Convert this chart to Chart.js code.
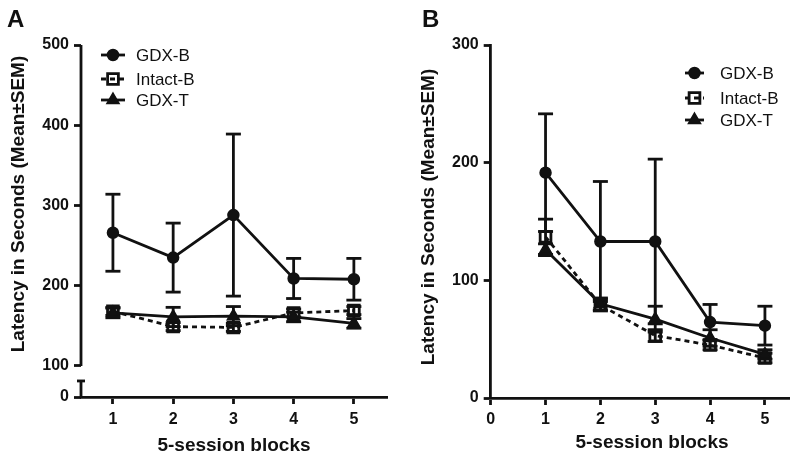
<!DOCTYPE html>
<html>
<head>
<meta charset="utf-8">
<script src="https://cdn.jsdelivr.net/npm/chart.js@4.4.0/dist/chart.umd.min.js"></script>
<style>
body { margin: 0; background: #fff; }
#wrap { position: relative; width: 800px; height: 457px; }
.panel { position: absolute; top: 0; width: 400px; height: 457px; }
</style>
</head>
<body>
<div id="wrap">
  <div class="panel" style="left:0"><canvas id="chartA" width="400" height="457"></canvas></div>
  <div class="panel" style="left:400px"><canvas id="chartB" width="400" height="457"></canvas></div>
</div>
<script>
var blocks = [1, 2, 3, 4, 5];
var groups = ["GDX-B", "Intact-B", "GDX-T"];

// panel A - latency per block (mean, sem)
var gdxbA = [266, 235, 288, 209, 208];
var gdxbSemA = [48, 43, 101, 25, 26];
var intactA = [168, 149, 148, 166, 169];
var intactSemA = [5, 5, 5, 5, 5];
var gdxtA = [166, 161, 162, 161, 153];
var gdxtSemA = [6, 12, 12, 6, 6];
var yTicksA = [100, 200, 300, 400, 500];

// panel B
var gdxbB = [191.5, 133, 133, 64.5, 61.5];
var gdxbSemB = [50, 51, 70, 15, 16.5];
var intactB = [137, 79, 53, 45, 34];
var intactSemB = [15, 5, 5, 4, 4];
var gdxtB = [126, 80, 67, 51, 37];
var gdxtSemB = [5, 5, 11, 7, 4];
var xTicksB = [0, 1, 2, 3, 4, 5];
var yTicksB = [0, 100, 200, 300];

var INK = "#111";
var FONT = "'Liberation Sans', Arial, Helvetica, sans-serif";
var LW = 2.8;

// bottom of the broken axis in A (shown as "0")
var yBottomA = 61.25;
var yBreakA = 81.25;

function pts(vals) {
  return blocks.map(function(b, i) { return { x: b, y: vals[i] }; });
}

function makeSets(gdxb, gdxbSem, intact, intactSem, gdxt, gdxtSem) {
  return [
    { label: groups[0], data: pts(gdxb), sem: gdxbSem, borderColor: INK, borderWidth: LW,
      pointStyle: "circle", pointRadius: 5.5, pointBorderWidth: 1.5,
      pointBackgroundColor: INK, pointBorderColor: INK, order: 2 },
    { label: groups[1], data: pts(intact), sem: intactSem, borderColor: INK, borderWidth: LW,
      borderDash: [5, 4], pointStyle: "rect", pointRadius: 7.6, pointBorderWidth: 2.8,
      pointBackgroundColor: "rgba(0,0,0,0)", pointBorderColor: INK, order: 1 },
    { label: groups[2], data: pts(gdxt), sem: gdxtSem, borderColor: INK, borderWidth: LW,
      pointStyle: "triangle", pointRadius: 7, pointBorderWidth: 1.5,
      pointBackgroundColor: INK, pointBorderColor: INK, order: 0 }
  ];
}

function line(ctx, x1, y1, x2, y2) {
  ctx.beginPath();
  ctx.moveTo(x1, y1);
  ctx.lineTo(x2, y2);
  ctx.stroke();
}

// error bars, titles, legend, panel letter, broken axis
var extras = {
  id: "extras",
  beforeDatasetsDraw: function(chart) {
    var ctx = chart.ctx, xs = chart.scales.x, ys = chart.scales.y;
    ctx.save();
    ctx.strokeStyle = INK;
    ctx.lineWidth = LW;
    chart.data.datasets.forEach(function(ds) {
      ds.data.forEach(function(p, j) {
        var x = xs.getPixelForValue(p.x);
        var top = ys.getPixelForValue(p.y + ds.sem[j]);
        var bot = ys.getPixelForValue(p.y - ds.sem[j]);
        line(ctx, x, top, x, bot);
        line(ctx, x - 7.5, top, x + 7.5, top);
        line(ctx, x - 7.5, bot, x + 7.5, bot);
      });
    });
    ctx.restore();
  },
  afterDraw: function(chart, args, o) {
    var ctx = chart.ctx, ys = chart.scales.y, area = chart.chartArea;
    ctx.save();
    ctx.fillStyle = INK;
    ctx.strokeStyle = INK;

    if (o.broken) {
      ctx.lineWidth = LW;
      line(ctx, area.left, ys.getPixelForValue(500), area.left, ys.getPixelForValue(100));
      var yb = ys.getPixelForValue(yBreakA);
      line(ctx, area.left, yb, area.left, area.bottom + 1);
      line(ctx, area.left - 4, yb, area.left + 4, yb);
    }

    ctx.font = "bold 24px " + FONT;
    ctx.textBaseline = "alphabetic";
    ctx.textAlign = "left";
    ctx.fillText(o.letter, o.letterX, 27);

    ctx.font = "bold 19px " + FONT;
    ctx.textAlign = "center";
    ctx.fillText("5-session blocks", o.xTitleX, o.xTitleY);

    ctx.save();
    ctx.translate(o.yTitleX, o.yTitleY);
    ctx.rotate(-Math.PI / 2);
    ctx.textBaseline = "middle";
    ctx.fillText("Latency in Seconds (Mean\u00B1SEM)", 0, 0);
    ctx.restore();

    ctx.font = "17px " + FONT;
    ctx.textAlign = "left";
    ctx.textBaseline = "middle";
    chart.data.datasets.forEach(function(ds, i) {
      var y = o.legY[i];
      ctx.lineWidth = LW;
      ctx.setLineDash(ds.borderDash || []);
      line(ctx, o.legX0, y, o.legX1, y);
      ctx.setLineDash([]);
      ctx.fillStyle = ds.pointBackgroundColor;
      ctx.strokeStyle = INK;
      ctx.lineWidth = ds.pointBorderWidth;
      Chart.helpers.drawPoint(ctx, {
        pointStyle: ds.pointStyle, radius: ds.pointRadius, rotation: 0, borderWidth: ds.pointBorderWidth
      }, (o.legX0 + o.legX1) / 2, y);
      ctx.fillStyle = INK;
      ctx.fillText(ds.label, o.legText, y + 1);
    });
    ctx.restore();
  }
};

function tickFont() { return { family: FONT, size: 16, weight: "bold" }; }

function axisGrid() {
  return { display: true, drawOnChartArea: false, tickLength: 7, tickWidth: LW, tickColor: INK, color: INK };
}

var chartA = new Chart(document.getElementById("chartA"), {
  type: "line",
  data: { datasets: makeSets(gdxbA, gdxbSemA, intactA, intactSemA, gdxtA, gdxtSemA) },
  plugins: [extras],
  options: {
    responsive: false, animation: false, devicePixelRatio: 1, events: [],
    layout: { padding: { top: 45, right: 13, left: 0, bottom: 0 } },
    scales: {
      x: {
        type: "linear", min: 0.47, max: 5.55,
        afterBuildTicks: function(s) { s.ticks = blocks.map(function(v) { return { value: v }; }); },
        afterFit: function(s) { s.height = 60; },
        grid: axisGrid(),
        border: { display: true, color: INK, width: LW },
        ticks: { font: tickFont(), color: INK, padding: 6, maxRotation: 0 }
      },
      y: {
        type: "linear", min: yBottomA, max: 500,
        afterBuildTicks: function(s) {
          s.ticks = [{ value: yBottomA }].concat(yTicksA.map(function(v) { return { value: v }; }));
        },
        afterFit: function(s) { s.width = 81; },
        grid: axisGrid(),
        border: { display: false },
        ticks: {
          font: tickFont(), color: INK, padding: 5,
          callback: function(v) { return v === yBottomA ? "0" : v; }
        }
      }
    },
    plugins: {
      legend: { display: false }, tooltip: { enabled: false },
      extras: {
        broken: true, letter: "A", letterX: 7,
        xTitleX: 234, xTitleY: 451, yTitleX: 18.5, yTitleY: 204,
        legX0: 101, legX1: 125, legText: 136, legY: [55, 79, 100]
      }
    }
  }
});

var chartB = new Chart(document.getElementById("chartB"), {
  type: "line",
  data: { datasets: makeSets(gdxbB, gdxbSemB, intactB, intactSemB, gdxtB, gdxtSemB) },
  plugins: [extras],
  options: {
    responsive: false, animation: false, devicePixelRatio: 1, events: [],
    layout: { padding: { top: 45, right: 10, left: 0, bottom: 0 } },
    scales: {
      x: {
        type: "linear", min: 0, max: 5.45,
        afterBuildTicks: function(s) { s.ticks = xTicksB.map(function(v) { return { value: v }; }); },
        afterFit: function(s) { s.height = 59; },
        grid: axisGrid(),
        border: { display: true, color: INK, width: LW },
        ticks: { font: tickFont(), color: INK, padding: 5, maxRotation: 0 }
      },
      y: {
        type: "linear", min: 0, max: 300,
        afterBuildTicks: function(s) { s.ticks = yTicksB.map(function(v) { return { value: v }; }); },
        afterFit: function(s) { s.width = 90.7; },
        grid: axisGrid(),
        border: { display: true, color: INK, width: LW },
        ticks: { font: tickFont(), color: INK, padding: 5 }
      }
    },
    plugins: {
      legend: { display: false }, tooltip: { enabled: false },
      extras: {
        broken: false, letter: "B", letterX: 22,
        xTitleX: 252, xTitleY: 448, yTitleX: 28.5, yTitleY: 217,
        legX0: 285, legX1: 304, legText: 320, legY: [73, 98, 120]
      }
    }
  }
});
</script>
</body>
</html>
